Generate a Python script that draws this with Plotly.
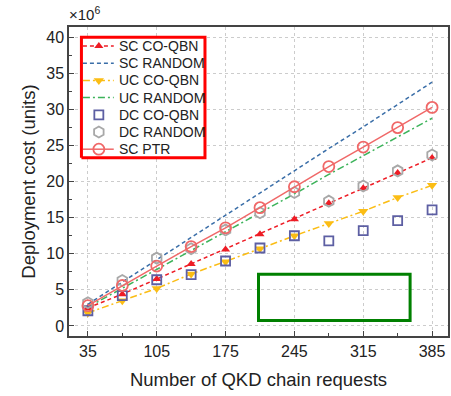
import plotly.graph_objects as go

x_requests = [35, 70, 105, 140, 175, 210, 245, 280, 315, 350, 385]

sc_coqbn = [2.5, 4.4, 6.5, 8.6, 10.6, 12.7, 14.8, 17.0, 19.1, 21.2, 23.3]
sc_random = [3.0, 6.1, 9.2, 12.2, 15.3, 18.4, 21.5, 24.6, 27.6, 30.7, 33.8]
uc_coqbn = [1.8, 3.5, 5.2, 7.2, 8.9, 10.7, 12.5, 14.2, 15.9, 17.8, 19.5]
uc_random = [2.6, 5.2, 7.9, 10.5, 13.1, 15.7, 18.3, 21.0, 23.6, 26.2, 28.8]
dc_coqbn = [2.1, 4.2, 6.4, 7.1, 9.0, 10.8, 12.5, 11.8, 13.2, 14.6, 16.1]
dc_random = [3.2, 6.3, 9.4, 10.7, 13.3, 15.7, 18.5, 17.3, 19.4, 21.5, 23.7]
sc_ptr = [2.8, 5.6, 8.3, 11.0, 13.6, 16.4, 19.3, 22.1, 24.8, 27.5, 30.3]

series_names = ["SC CO-QBN", "SC RANDOM", "UC CO-QBN", "UC RANDOM",
                "DC CO-QBN", "DC RANDOM", "SC PTR"]

x_ticks = [35, 105, 175, 245, 315, 385]
y_ticks = [0, 5, 10, 15, 20, 25, 30, 35, 40]

FONT = "Liberation Sans, Arial, sans-serif"
TXT = "#222222"

RED, BLUE, YEL, GRN = "#ee1c25", "#3a6ea8", "#fbbd14", "#3cb35a"
PURP, GRAY, PINK = "#5d5fa3", "#a8a8a8", "#f06868"
styles = [
    (dict(color=RED, width=1.5, dash="4px,3px"),
     dict(symbol="triangle-up", size=8, color=RED)),
    (dict(color=BLUE, width=1.5, dash="4px,3px"), None),
    (dict(color=YEL, width=1.5, dash="7px,3px,2px,3px"),
     dict(symbol="triangle-down", size=9, color=YEL)),
    (dict(color=GRN, width=1.5, dash="7px,3px,2px,3px"), None),
    (None, dict(symbol="square-open", size=9, color=PURP, line=dict(width=1.8, color=PURP))),
    (None, dict(symbol="hexagon-open", size=11, color=GRAY, line=dict(width=1.8, color=GRAY))),
    (dict(color=PINK, width=1.5),
     dict(symbol="circle-open", size=11, color=PINK, line=dict(width=1.8, color=PINK))),
]
series_values = [sc_coqbn, sc_random, uc_coqbn, uc_random, dc_coqbn, dc_random, sc_ptr]

L, R, T, B = 69, 450, 27, 336
def px(x):
    return (x - L) / (R - L)
def py(y):
    return (B - y) / (B - T)

fig = go.Figure()

for name, vals, (ln, mk) in zip(series_names, series_values, styles):
    mode = "+".join([m for m, s in (("lines", ln), ("markers", mk)) if s is not None])
    kw = dict(x=x_requests, y=vals, name=name, mode=mode, showlegend=False)
    if ln is not None:
        kw["line"] = ln
    if mk is not None:
        kw["marker"] = mk
    fig.add_trace(go.Scatter(**kw))

axis_common = dict(
    showline=True, linecolor="#444444", linewidth=1.5, mirror=True,
    ticks="inside", ticklen=5, tickcolor="#444444", tickwidth=1,
    showgrid=True, gridcolor="#cccccc", griddash="dot", gridwidth=1,
    zeroline=False,
    tickfont=dict(family=FONT, size=16, color=TXT),
)

fig.update_layout(
    xaxis=dict(**axis_common, range=[15.8, 401.2], tickvals=x_ticks,
               minor=dict(ticks="inside", ticklen=3, tick0=35, dtick=35,
                          tickcolor="#444444", showgrid=False),
               title=dict(text="Number of QKD chain requests",
                          font=dict(family=FONT, size=18.5, color=TXT), standoff=14)),
    yaxis=dict(**axis_common, range=[-1.4, 41.45], tickvals=y_ticks,
               minor=dict(ticks="inside", ticklen=3, tick0=0, dtick=2.5,
                          tickcolor="#444444", showgrid=False),
               title=dict(text="Deployment cost (units)",
                          font=dict(family=FONT, size=18.5, color=TXT), standoff=6)),
    xaxis2=dict(overlaying="x", range=[0, 1], visible=False),
    yaxis2=dict(overlaying="y", range=[0, 1], visible=False),
)

bx0, bx1, by0, by1 = px(81.5), px(205.7), py(157.7), py(37.3)
fig.add_trace(go.Scatter(x=[bx0, bx1, bx1, bx0, bx0], y=[by0, by0, by1, by1, by0],
                         mode="lines", fill="toself", fillcolor="#ffffff",
                         line=dict(color="#ffffff", width=0.5),
                         xaxis="x2", yaxis="y2", showlegend=False))
fig.add_trace(go.Scatter(x=[bx0, bx1, bx1, bx0, bx0], y=[by0, by0, by1, by1, by0],
                         mode="lines", line=dict(color="red", width=3),
                         xaxis="x2", yaxis="y2", showlegend=False, hoverinfo="skip"))
fig.add_shape(type="rect", xref="paper", yref="paper", x0=0.5, x1=0.9, y0=0.05, y1=0.2,
              line=dict(color="green", width=3), layer="above")

row0, row_gap = 46.0, 17.2
for i, (name, (ln, mk)) in enumerate(zip(series_names, styles)):
    yy = py(row0 + i * row_gap)
    if ln is not None:
        fig.add_trace(go.Scatter(x=[px(83), px(114)], y=[yy, yy], mode="lines",
                                 line=ln, xaxis="x2", yaxis="y2",
                                 showlegend=False, hoverinfo="skip"))
    if mk is not None:
        fig.add_trace(go.Scatter(x=[px(99)], y=[yy], mode="markers",
                                 marker=mk, xaxis="x2", yaxis="y2",
                                 showlegend=False, hoverinfo="skip"))
    fig.add_annotation(text=name, xref="paper", yref="paper", x=px(117.5), y=yy,
                       xanchor="left", yanchor="middle", showarrow=False,
                       font=dict(family=FONT, size=14, color=TXT))

fig.add_annotation(text="×10<sup>6</sup>", xref="paper", yref="paper",
                   x=0.0, y=1.0, xanchor="left", yanchor="bottom", yshift=2, xshift=-2,
                   showarrow=False, font=dict(family=FONT, size=15, color=TXT))

fig.update_layout(
    width=451, height=396,
    margin=dict(l=69, r=1, t=27, b=60),
    plot_bgcolor="white", paper_bgcolor="white",
    font=dict(family=FONT, color=TXT),
    showlegend=False,
)

fig.write_html("out.html")
